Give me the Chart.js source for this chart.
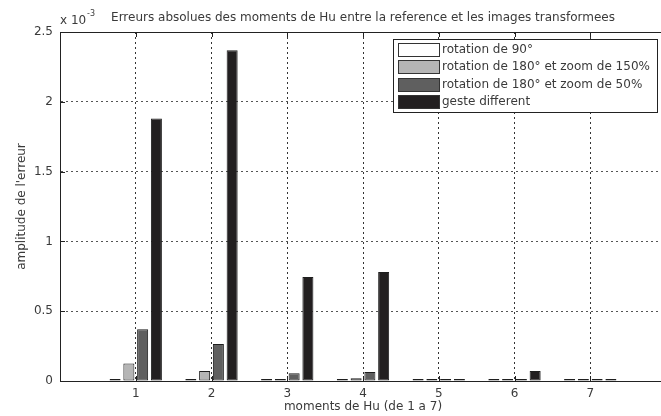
<!DOCTYPE html>
<html>
<head>
<meta charset="utf-8">
<script src="https://cdn.jsdelivr.net/npm/chart.js@4.4.0/dist/chart.umd.min.js"></script>
<style>
  body { margin: 0; overflow: hidden; background: #fff; }
</style>
</head>
<body>
<canvas id="huChart" width="672" height="416"></canvas>
<script>
  // moments de Hu 1..7, erreurs en unites de 1e-3
  const moments = [1, 2, 3, 4, 5, 6, 7];
  const rot90 = [0.004, 0.004, 0.004, 0.004, 0.003, 0.003, 0.003];
  const rot180zoom150 = [0.125, 0.072, 0.015, 0.02, 0.003, 0.003, 0.003];
  const rot180zoom50 = [0.37, 0.265, 0.055, 0.065, 0.003, 0.003, 0.003];
  const gesteDifferent = [1.88, 2.37, 0.745, 0.78, 0.003, 0.072, 0.003];
  const seriesLabels = ['rotation de 90°', 'rotation de 180° et zoom de 150%', 'rotation de 180° et zoom de 50%', 'geste different'];
  const seriesColors = ['#ffffff', '#b5b5b5', '#5f5f5f', '#221f20'];

  const textColor = '#3a3a3a';
  const fontFamily = '"DejaVu Sans", sans-serif';

  function toPoints(values) {
    return values.map((v, i) => ({ x: moments[i], y: v }));
  }

  const allSeries = [rot90, rot180zoom150, rot180zoom50, gesteDifferent];

  // box, inner ticks, title, multiplier and legend, matlab style
  const matlabDecor = {
    id: 'matlabDecor',
    afterDraw(chart) {
      const ctx = chart.ctx;
      const area = chart.chartArea;
      const xs = chart.scales.x;
      const ys = chart.scales.y;
      ctx.save();

      ctx.strokeStyle = '#222';
      ctx.lineWidth = 1;
      ctx.strokeRect(area.left + 0.5, area.top + 0.5, area.right - area.left - 1, area.bottom - area.top);

      // inward ticks
      ctx.beginPath();
      moments.forEach(m => {
        const px = Math.round(xs.getPixelForValue(m)) + 0.5;
        ctx.moveTo(px, area.bottom); ctx.lineTo(px, area.bottom - 5);
        ctx.moveTo(px, area.top); ctx.lineTo(px, area.top + 5);
      });
      [0.5, 1, 1.5, 2].forEach(v => {
        const py = Math.round(ys.getPixelForValue(v)) + 0.5;
        ctx.moveTo(area.left, py); ctx.lineTo(area.left + 5, py);
      });
      ctx.stroke();

      // title
      ctx.fillStyle = textColor;
      ctx.font = '12px ' + fontFamily;
      ctx.textAlign = 'center';
      ctx.textBaseline = 'middle';
      ctx.fillText('Erreurs absolues des moments de Hu entre la reference et les images transformees', (area.left + area.right) / 2, 18);

      // multiplier
      ctx.textAlign = 'left';
      ctx.font = '12px ' + fontFamily;
      ctx.fillText('x 10', 60, 21);
      ctx.font = '8px ' + fontFamily;
      ctx.fillText('-3', 87, 14);

      // legend
      const lx = 393, ly = 39, lw = 264, lh = 73;
      ctx.fillStyle = '#fff';
      ctx.fillRect(lx, ly, lw, lh);
      ctx.strokeStyle = '#222';
      ctx.strokeRect(lx + 0.5, ly + 0.5, lw, lh);
      ctx.font = '12px ' + fontFamily;
      chart.data.datasets.forEach((ds, i) => {
        const sy = 43 + i * 17.3;
        ctx.fillStyle = ds.backgroundColor;
        ctx.fillRect(398, Math.round(sy), 41, 13);
        ctx.strokeStyle = '#333';
        ctx.strokeRect(398.5, Math.round(sy) + 0.5, 41, 13);
        ctx.fillStyle = textColor;
        ctx.fillText(ds.label, 442, sy + 7);
      });

      ctx.restore();
    }
  };

  new Chart(document.getElementById('huChart'), {
    type: 'bar',
    data: {
      datasets: allSeries.map((vals, i) => ({
        label: seriesLabels[i],
        data: toPoints(vals),
        backgroundColor: seriesColors[i],
        borderColor: '#1e1e1e',
        borderWidth: 1,
        borderSkipped: false,
        inflateAmount: 0,
        minBarLength: 2,
        categoryPercentage: 0.727,
        barPercentage: 0.8
      }))
    },
    options: {
      responsive: false,
      animation: false,
      layout: { padding: { top: 32, right: 2, left: 0, bottom: 0 } },
      plugins: { legend: { display: false }, tooltip: { enabled: false }, title: { display: false } },
      scales: {
        x: {
          type: 'linear',
          min: 0,
          max: 8,
          offset: false,
          afterFit(scale) { scale.height = 35; },
          ticks: {
            stepSize: 1,
            padding: 6,
            color: textColor,
            font: { family: fontFamily, size: 12 },
            callback: v => (v >= 1 && v <= 7) ? String(v) : ''
          },
          grid: {
            offset: false,
            color: ctx => (ctx.tick && ctx.tick.value >= 1 && ctx.tick.value <= 7) ? '#333' : 'rgba(0,0,0,0)',
            drawTicks: false
          },
          border: { display: true, color: '#222', dash: [2, 3] },
          title: {
            display: true,
            text: 'moments de Hu (de 1 a 7)',
            color: textColor,
            font: { family: fontFamily, size: 12 },
            padding: { top: 0, bottom: 2 }
          }
        },
        y: {
          min: 0,
          max: 2.5,
          afterFit(scale) { scale.width = 60; },
          ticks: {
            stepSize: 0.5,
            padding: 7,
            color: textColor,
            font: { family: fontFamily, size: 12 },
            callback: v => String(v)
          },
          grid: {
            color: ctx => (ctx.tick && ctx.tick.value > 0 && ctx.tick.value < 2.5) ? '#555' : 'rgba(0,0,0,0)',
            drawTicks: false
          },
          border: { display: true, color: '#222', dash: [2, 3] },
          title: {
            display: true,
            text: "amplitude de l'erreur",
            color: textColor,
            font: { family: fontFamily, size: 12 },
            padding: { top: 15, bottom: 0 }
          }
        }
      }
    },
    plugins: [matlabDecor]
  });
</script>
</body>
</html>
